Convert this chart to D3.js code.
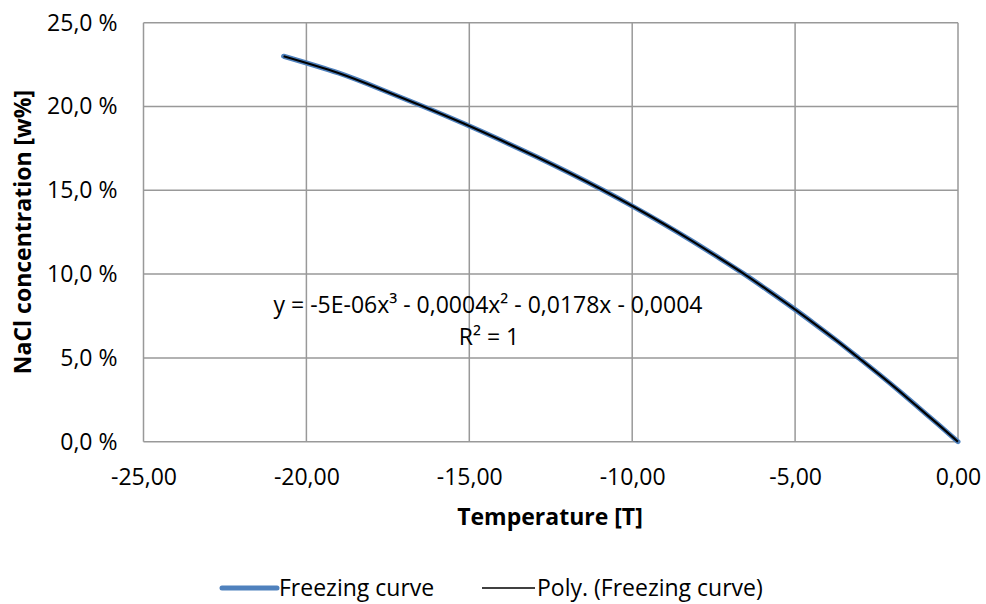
<!DOCTYPE html>
<html><head><meta charset="utf-8">
<script src="https://cdn.jsdelivr.net/npm/d3@7"></script>
<style>body{margin:0;background:#fff}svg{display:block}text{font-family:"Open Sans",sans-serif;fill:#000}</style>
</head><body>
<script>
const temperatures = [0, -0.59, -1.19, -1.79, -2.41, -3.05, -3.70, -4.38, -5.08, -5.81, -6.56, -7.36, -8.18, -9.04, -9.94, -10.89, -11.89, -12.94, -14.04, -15.19, -16.41, -17.68, -19.02, -20.70];
const concentrations = [0, 0.01, 0.02, 0.03, 0.04, 0.05, 0.06, 0.07, 0.08, 0.09, 0.10, 0.11, 0.12, 0.13, 0.14, 0.15, 0.16, 0.17, 0.18, 0.19, 0.20, 0.21, 0.22, 0.230];
const xTicks = [-25, -20, -15, -10, -5, 0];
const yTicks = [0, 0.05, 0.10, 0.15, 0.20, 0.25];
const equationText = ["y = -5E-06x³ - 0,0004x² - 0,0178x - 0,0004", "R² = 1"];
const legendLabels = ["Freezing curve", "Poly. (Freezing curve)"];

const W = 986, H = 604;
const FS = "23px";
const svg = d3.select("body").append("svg").attr("width", W).attr("height", H);
const x = d3.scaleLinear().domain([-25, 0]).range([143.5, 958]);
const y = d3.scaleLinear().domain([0, 0.25]).range([441.7, 22.7]);
const data = temperatures.map((t, i) => ({t, c: concentrations[i]}));

const grid = svg.append("g").attr("stroke", "#999").attr("stroke-width", 1.5);
grid.selectAll("line.v").data(xTicks).join("line").attr("class","v")
  .attr("x1", d => x(d)).attr("x2", d => x(d)).attr("y1", y(0.25)).attr("y2", y(0));
grid.selectAll("line.h").data(yTicks).join("line").attr("class","h")
  .attr("y1", d => y(d)).attr("y2", d => y(d)).attr("x1", x(-25)).attr("x2", x(0));

const fmtY = d => (d*100).toFixed(1).replace(".", ",") + " %";
const fmtX = d => d.toFixed(2).replace(".", ",");

const xAxis = svg.append("g").attr("transform", `translate(0,${y(0)})`)
  .call(d3.axisBottom(x).tickValues(xTicks).tickFormat(fmtX).tickSize(0).tickPadding(27));
xAxis.select(".domain").remove();
xAxis.selectAll("text").style("font-size", FS).style("font-family", "Open Sans");

const yAxis = svg.append("g").attr("transform", `translate(${x(-25)},0)`)
  .call(d3.axisLeft(y).tickValues(yTicks).tickFormat(fmtY).tickSize(0).tickPadding(26));
yAxis.select(".domain").remove();
yAxis.selectAll("text").style("font-size", FS).style("font-family", "Open Sans");

const line = d3.line().x(d => x(d.t)).y(d => y(d.c)).curve(d3.curveNatural);
svg.append("path").datum(data).attr("d", line).attr("fill", "none")
  .attr("stroke", "#4F81BD").attr("stroke-width", 5).attr("stroke-linecap", "round");
svg.append("path").datum(data).attr("d", line).attr("fill", "none")
  .attr("stroke", "#000").attr("stroke-width", 2.2);

svg.append("text").attr("x", 488).attr("y", 313).attr("text-anchor", "middle")
  .style("font-size", FS).text(equationText[0]);
svg.append("text").attr("x", 489).attr("y", 345).attr("text-anchor", "middle")
  .style("font-size", FS).text(equationText[1]);

svg.append("text").attr("x", 550).attr("y", 525).attr("text-anchor", "middle")
  .style("font-size", FS).style("font-weight", "bold").text("Temperature [T]");
svg.append("text").attr("transform", "translate(31,232) rotate(-90)").attr("text-anchor", "middle")
  .style("font-size", FS).style("font-weight", "bold").text("NaCl concentration [w%]");

const lg = svg.append("g");
lg.append("line").attr("x1", 222).attr("x2", 277).attr("y1", 588).attr("y2", 588)
  .attr("stroke", "#4F81BD").attr("stroke-width", 5).attr("stroke-linecap", "round");
lg.append("text").attr("x", 279).attr("y", 596).style("font-size", FS).text(legendLabels[0]);
lg.append("line").attr("x1", 482).attr("x2", 535).attr("y1", 588).attr("y2", 588)
  .attr("stroke", "#000").attr("stroke-width", 1.5);
lg.append("text").attr("x", 537).attr("y", 596).style("font-size", FS).text(legendLabels[1]);
</script>
</body></html>
